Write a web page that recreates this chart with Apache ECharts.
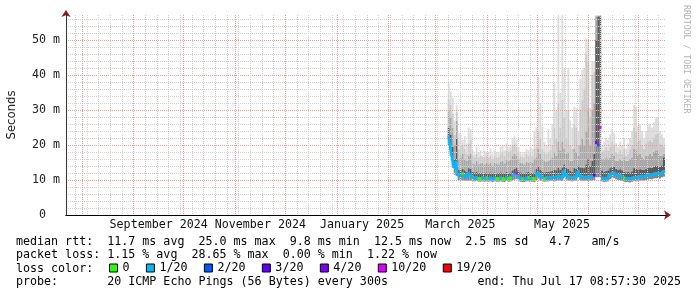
<!DOCTYPE html>
<html><head><meta charset="utf-8">
<script src="https://cdn.jsdelivr.net/npm/echarts@6/dist/echarts.min.js"></script>
<style>html,body{margin:0;padding:0;background:#fff}#c{width:697px;height:297px}</style>
</head><body><div id="c"></div>
<script>
// ---- time frame (360 days ending at the "end" stamp) ----
const endTime = new Date(2025, 6, 17, 8, 57, 30).getTime();
const DAY = 86400000;
const startTime = endTime - 360 * DAY;
const bucketMs = 1.2 * DAY;      // one RRD step of the plotted archive
const firstBucket = 191;         // first bucket that holds data

// ---- x axis label texts (placed mid month) ----
const monthLabelTexts = ['September 2024', 'November 2024', 'January 2025', 'March 2025', 'May 2025'];
const monthLabelStarts = [[2024, 8], [2024, 10], [2025, 0], [2025, 2], [2025, 4]];

// ---- y axis ----
const yMax = 200 / 3.5;
const yMajorTicks = [0, 10, 20, 30, 40, 50];
const yMinorTicks = [2, 4, 6, 8, 12, 14, 16, 18, 22, 24, 26, 28, 32, 34, 36, 38, 42, 44, 46, 48, 52, 54, 56];

// ---- data: ms per bucket ----
const pingMin = [
20.0,17.0,13.5,11.5,11.2,10.0,9.9,9.9,9.8,9.7,
9.8,9.8,9.6,9.6,9.7,9.5,9.5,9.6,9.5,9.6,
9.5,9.6,9.4,9.6,9.5,9.5,9.6,9.5,9.4,9.7,
9.5,9.6,9.9,10.1,10.3,9.9,9.5,9.4,9.4,9.6,
9.6,9.4,9.5,9.4,10.0,10.4,9.9,9.7,9.5,9.6,
9.6,9.7,9.8,9.6,9.8,9.9,9.8,9.7,10.8,10.1,
9.8,9.7,9.6,9.8,9.8,10.8,9.9,9.8,9.7,9.8,
9.7,9.8,9.8,10.0,10.8,10.8,10.8,9.6,9.4,9.5,
9.6,10.2,10.5,10.5,10.2,10.0,10.0,9.8,9.5,9.4,
9.4,9.3,9.5,9.7,9.6,9.8,9.8,9.9,9.8,10.0,
10.1,10.3,10.2,10.4,10.5,10.6,10.4,10.8,11.0];
const medianMs = [
22.4,20.3,16.8,13.6,15.2,11.4,11.2,11.8,11.3,10.8,
11.9,11.6,10.9,10.6,10.8,10.5,10.4,10.7,10.5,10.6,
10.4,10.6,10.3,10.6,10.5,10.4,10.6,10.5,10.3,10.8,
10.5,10.6,11.2,11.6,12.0,11.2,10.6,10.4,10.3,10.6,
10.7,10.4,10.5,10.4,11.4,12.1,11.2,10.8,10.5,10.7,
10.6,10.8,10.9,10.7,11.0,11.2,10.9,10.8,12.7,11.5,
11.0,10.8,10.7,10.9,11.0,12.5,11.2,11.0,10.8,10.9,
10.8,10.9,11.0,11.4,20.7,20.0,25.0,10.6,10.4,10.5,
10.6,11.5,12.0,12.0,11.5,11.2,11.3,11.0,10.6,10.5,
10.5,10.4,10.6,10.8,10.7,10.9,11.0,11.1,11.0,11.2,
11.4,11.6,11.5,11.8,11.9,12.0,11.8,12.2,12.5];
const smokeDark = [
25.0,23.0,19.5,16.0,22.0,13.0,12.8,13.2,12.8,12.4,
13.4,13.2,12.4,12.2,12.4,12.0,12.0,12.2,12.0,12.2,
12.0,12.2,11.9,12.2,12.0,12.0,12.2,12.1,11.9,12.4,
12.1,12.2,12.8,13.2,13.6,12.8,12.2,12.0,11.9,12.2,
12.3,12.0,12.1,12.2,13.2,14.0,13.0,12.6,12.2,12.3,
12.3,12.5,12.6,13.0,12.8,13.6,13.0,13.6,14.5,13.4,
13.2,12.6,12.4,13.4,13.2,14.2,13.6,13.6,13.4,14.5,
16.0,14.0,15.5,17.5,50.0,56.8,56.8,12.8,12.4,12.6,
12.8,13.4,13.8,13.8,13.2,13.0,13.1,12.8,12.4,12.2,
12.3,12.2,12.5,13.4,13.2,13.0,13.1,13.0,12.9,13.2,
13.4,13.6,13.5,13.8,14.0,14.0,13.8,14.2,16.5];
const smokeMid = [
30.0,28.0,25.0,20.0,27.0,16.0,16.5,17.5,16.0,15.5,
17.0,17.5,15.0,14.5,15.5,14.5,14.8,15.0,14.5,15.0,
14.5,15.0,14.2,15.0,14.8,14.5,15.2,15.5,14.8,16.0,
15.5,15.8,17.0,17.5,17.0,16.0,15.0,14.8,14.5,15.2,
15.0,15.2,15.0,16.0,16.5,19.0,17.5,16.0,15.5,15.2,
15.5,15.8,16.5,18.0,17.0,21.0,18.5,21.0,19.0,17.5,
18.0,15.5,15.5,19.0,18.0,17.0,20.0,22.0,20.0,24.0,
30.5,20.0,30.0,32.0,56.8,56.8,56.8,16.0,16.0,16.5,
16.0,16.5,17.5,17.0,15.5,15.5,16.0,15.5,16.5,15.5,
15.5,16.0,16.5,19.0,18.5,17.0,17.5,16.5,16.0,17.0,
17.0,17.5,17.0,18.0,18.5,18.5,17.0,17.0,17.5];
const smokeLight = [
33.0,31.5,29.0,23.0,29.5,19.0,20.0,20.0,19.0,17.5,
20.5,21.5,17.0,16.5,17.5,16.5,17.0,16.5,16.5,17.0,
16.5,17.0,16.0,17.0,16.5,16.5,17.5,18.0,17.0,18.5,
18.0,18.5,20.0,20.5,19.5,18.0,16.8,16.5,16.5,17.5,
17.0,17.5,17.0,19.0,19.5,24.0,22.0,19.0,18.0,17.5,
18.0,18.5,20.0,25.0,22.0,32.0,25.0,33.0,28.0,22.0,
30.0,20.0,19.0,26.0,25.0,20.0,30.0,33.0,36.0,46.0,
44.0,28.0,40.0,41.0,56.8,56.8,56.8,18.0,18.5,19.5,
18.5,19.5,21.0,20.0,18.0,17.5,18.5,17.5,19.0,17.0,
17.5,19.0,20.0,25.0,24.0,21.0,21.5,20.0,19.0,20.5,
21.0,21.5,21.0,22.0,23.0,23.5,20.5,20.0,19.5];
const pingMax = [
37.6,35.3,33.5,27.0,31.5,23.5,23.0,21.5,22.5,20.5,
25.0,24.5,18.5,17.5,19.5,18.0,18.5,17.0,18.5,18.0,
18.0,19.0,17.5,18.5,18.0,18.0,19.5,20.0,18.5,20.5,
19.5,20.0,22.0,22.5,21.5,19.5,18.0,17.5,18.0,19.0,
18.5,19.5,19.0,24.0,25.0,39.5,32.0,25.0,21.0,20.0,
24.5,22.0,26.0,38.0,30.0,57.2,35.0,57.2,42.0,30.0,
42.0,27.0,25.0,31.0,30.5,24.0,39.0,41.5,42.0,50.5,
50.0,30.6,44.0,44.0,57.2,57.2,57.2,20.0,21.0,22.0,
21.5,23.0,24.5,23.5,20.5,19.5,21.0,20.0,22.0,19.0,
20.5,22.0,24.0,31.5,31.0,25.5,26.0,24.0,22.0,24.0,
25.5,26.0,25.0,26.5,27.8,28.0,24.0,23.0,22.0];
// lost pings (of 20) per bucket, by loss class
const lossPings = [
1,1,1,1,1,1,1,0,1,1,
1,1,1,1,1,0,0,1,1,0,
1,1,1,1,0,0,1,0,0,1,
0,0,1,1,10,1,1,0,1,1,
0,1,0,0,1,1,1,1,0,1,
1,1,1,1,1,1,1,1,1,1,
1,1,1,1,1,1,1,1,1,1,
1,1,1,3,4,2,10,1,1,1,
1,1,1,1,1,1,1,1,0,1,
1,1,1,1,1,1,1,1,1,1,
1,1,1,1,1,1,1,1,1];

const lossKeys   = [0, 1, 2, 3, 4, 10, 19];
const lossNames  = ['0', '1/20', '2/20', '3/20', '4/20', '10/20', '19/20'];
const lossColors = ['#26ff00', '#00b8ff', '#0059ff', '#5e00ff', '#7e00ff', '#dd00ff', '#ff0000'];

const statLines = [
  'median rtt:  11.7 ms avg  25.0 ms max  9.8 ms min  12.5 ms now  2.5 ms sd   4.7   am/s',
  'packet loss: 1.15 % avg  28.65 % max  0.00 % min  1.22 % now',
  'loss color:',
  'probe:       20 ICMP Echo Pings (56 Bytes) every 300s'
];
const endText = 'end: Thu Jul 17 08:57:30 2025';

// ---- build ----
const times = medianMs.map((_, i) => startTime + (firstBucket + i + 0.5) * bucketMs);

const monthTicks = [];
for (let d = new Date(2024, 7, 1); d.getTime() < endTime; d.setMonth(d.getMonth() + 1)) monthTicks.push(d.getTime());
const weekTicks = [];
for (let d = new Date(2024, 6, 28); d.getTime() < endTime; d.setDate(d.getDate() + 7)) {
  if (monthTicks.indexOf(d.getTime()) < 0) weekTicks.push(d.getTime());
}
const labelTicks = monthLabelStarts.map(([y, m]) => new Date(y, m, 1).getTime() + 15 * DAY);

const MONO = '"DejaVu Sans Mono", monospace';
const FS = 11.66;

const smokeTops = [pingMin, medianMs, smokeDark, smokeMid, smokeLight, pingMax];
const smokeColors = ['rgba(0,0,0,0)', '#858585', '#585858', '#a6a6a6', '#c9c9c9', '#dedede'];
const series = [];
smokeTops.forEach((arr, k) => {
  const prev = k === 0 ? null : smokeTops[k - 1];
  series.push({
    type: 'bar', name: 'smoke' + k, stack: 'smoke', silent: true, z: 2,
    xAxisIndex: 0, yAxisIndex: 0,
    barWidth: 2, barGap: '-100%',
    itemStyle: { color: smokeColors[k] },
    data: times.map((t, i) => [t, prev ? Math.max(0, arr[i] - prev[i]) : arr[i]])
  });
});
lossKeys.forEach((key, c) => {
  series.push({
    type: 'line', name: lossNames[c], step: 'middle', z: 5, silent: true,
    xAxisIndex: 0, yAxisIndex: 0,
    color: lossColors[c],
    symbol: 'rect', symbolSize: [2.2, 2.6], showSymbol: true,
    lineStyle: { width: 2.6, color: lossColors[c] },
    itemStyle: { color: lossColors[c] },
    connectNulls: false,
    data: times.map((t, i) => [t, lossPings[i] === key ? medianMs[i] : '-'])
  });
});

const common = { type: 'value', min: startTime, max: endTime, position: 'bottom' };
const ycommon = { type: 'value', min: 0, max: yMax, position: 'left' };
const gray = '#d0d0d0', red = '#f09898', arrowRed = '#8b1a1a';

const option = {
  animation: false,
  backgroundColor: '#fff',
  grid: { left: 66, top: 15, width: 600, height: 200, outerBoundsMode: 'none' },
  xAxis: [
    // time axis that carries the data (drawn invisibly)
    { type: 'time', min: startTime, max: endTime, position: 'bottom', show: true, z: 0,
      axisLine: { show: false }, axisTick: { show: false }, axisLabel: { show: false }, splitLine: { show: false } },
    Object.assign({ z: 3, axisLine: { show: false }, axisLabel: { show: false },
      axisTick: { show: false, customValues: weekTicks },
      splitLine: { show: true, lineStyle: { color: gray, type: [1, 1], width: 1 } } }, common),
    Object.assign({ z: 3, axisLine: { show: false }, axisLabel: { show: false },
      axisTick: { show: false, customValues: monthTicks },
      splitLine: { show: true, lineStyle: { color: red, type: [1, 1], width: 1 } } }, common),
    Object.assign({ z: 6,
      axisLine: { show: true, symbol: ['none', 'arrow'], symbolSize: [7, 7], symbolOffset: [0, 5], lineStyle: { color: arrowRed } },
      axisTick: { show: false, customValues: labelTicks },
      axisLabel: { show: true, customValues: labelTicks, margin: 4, fontFamily: MONO, fontSize: FS, color: '#111',
        formatter: v => { const i = labelTicks.indexOf(v); return i >= 0 ? monthLabelTexts[i] : ''; } },
      splitLine: { show: false } }, common),
    Object.assign({ z: 7, axisLine: { show: true, lineStyle: { color: '#000' } },
      axisTick: { show: false }, axisLabel: { show: false }, splitLine: { show: false } }, common)
  ],
  yAxis: [
    Object.assign({ z: 3, axisLine: { show: false }, axisTick: { show: false, customValues: yMinorTicks }, axisLabel: { show: false },
      splitLine: { show: true, lineStyle: { color: gray, type: [1, 1] } } }, ycommon),
    Object.assign({ z: 3, axisLine: { show: false }, axisTick: { show: false, customValues: yMajorTicks },
      axisLabel: { customValues: yMajorTicks, margin: 6, fontFamily: MONO, fontSize: FS, color: '#222',
        formatter: v => v === 0 ? '0  ' : v + ' m' },
      splitLine: { show: true, lineStyle: { color: red, type: [1, 1] } },
      name: 'Seconds', nameLocation: 'middle', nameGap: 48,
      nameTextStyle: { fontFamily: '"DejaVu Sans", sans-serif', fontSize: FS, color: '#222' } }, ycommon),
    Object.assign({ z: 6, axisLine: { show: true, symbol: ['none', 'arrow'], symbolSize: [7, 7], symbolOffset: [0, 5], lineStyle: { color: arrowRed } },
      axisTick: { show: false }, axisLabel: { show: false }, splitLine: { show: false } }, ycommon),
    Object.assign({ z: 7, axisLine: { show: true, lineStyle: { color: '#333' } },
      axisTick: { show: false }, axisLabel: { show: false }, splitLine: { show: false } }, ycommon)
  ],
  legend: {
    data: lossNames, left: 109, top: 262, padding: 0, itemGap: 16.4,
    icon: 'rect', itemWidth: 8, itemHeight: 8, selectedMode: false,
    itemStyle: { borderColor: '#000', borderWidth: 1 },
    textStyle: { fontFamily: MONO, fontSize: FS, color: '#000' }
  },
  graphic: [
    ...statLines.map((s, i) => ({ type: 'text', x: 16, y: [241.7, 255.2, 268.8, 282.4][i],
      style: { text: s, font: FS + 'px ' + MONO, fill: '#000', verticalAlign: 'middle', textAlign: 'left' } })),
    { type: 'text', x: 681, y: 282.4, style: { text: endText, font: FS + 'px ' + MONO, fill: '#000', verticalAlign: 'middle', textAlign: 'right' } },
    { type: 'text', x: 686.5, y: 5, rotation: -Math.PI / 2,
      style: { text: 'RRDTOOL / TOBI OETIKER', font: '8.2px ' + MONO, fill: '#b4b4b4', verticalAlign: 'middle', textAlign: 'left' } }
  ],
  series: series
};
const chart = echarts.init(document.getElementById('c'));
chart.setOption(option);
</script>
</body></html>
